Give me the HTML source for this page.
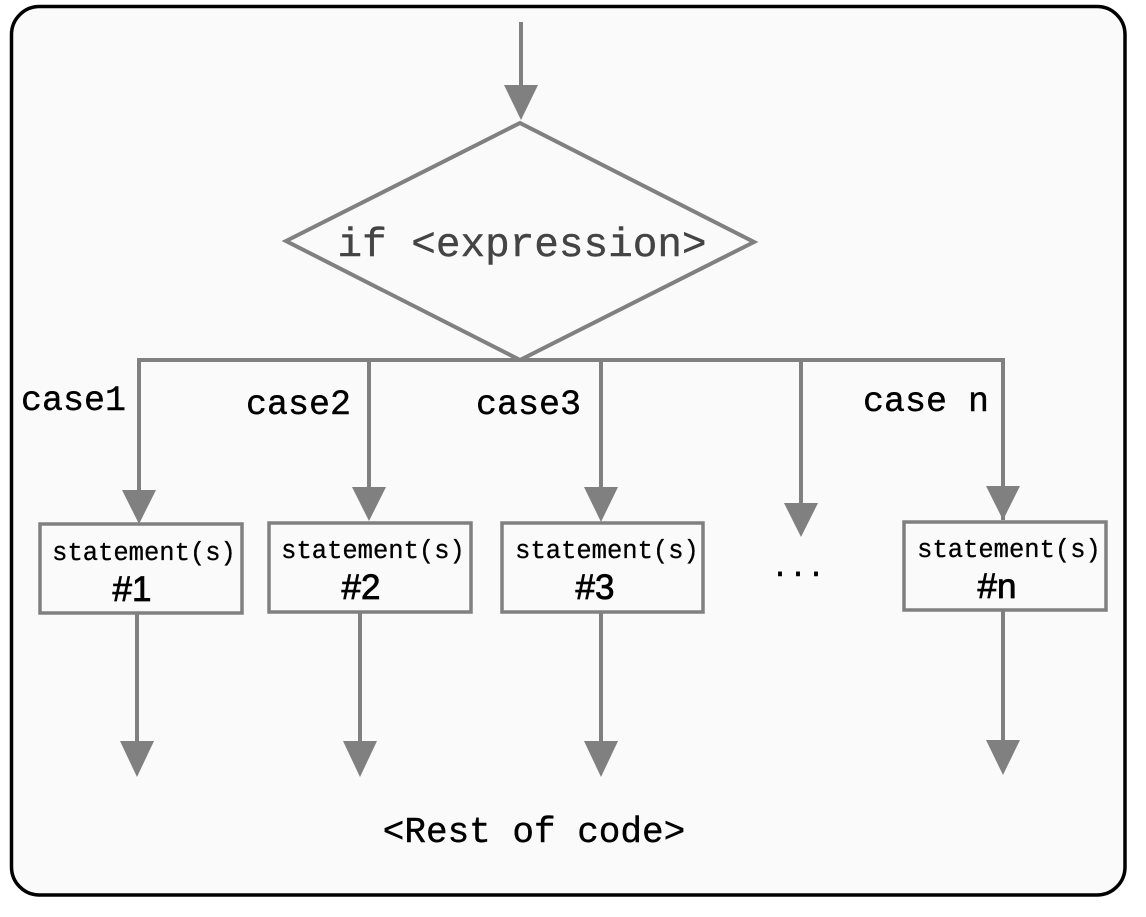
<!DOCTYPE html>
<html><head><meta charset="utf-8"><style>
html,body{margin:0;padding:0;background:#fff;}
svg{display:block;}
.m{font-family:"Liberation Mono",monospace;}
.s{font-family:"Liberation Sans",sans-serif;}
</style></head><body>
<svg width="1146" height="917" viewBox="0 0 1146 917" xmlns="http://www.w3.org/2000/svg">
<rect x="11.5" y="6.5" width="1113.5" height="888.5" rx="28" fill="#fafafa" stroke="#000" stroke-width="3.5"/>
<g stroke="#808080" stroke-width="4" fill="none">
<line x1="521" y1="22" x2="521" y2="90"/>
<polygon points="286,241 520,123 754,242 520,360"/>
<polyline points="139,520 139,360 1003,360 1003,520"/>
<line x1="369" y1="360" x2="369" y2="500"/>
<line x1="601" y1="360" x2="601" y2="500"/>
<line x1="801" y1="360" x2="801" y2="510"/>
<rect x="40" y="524" width="202" height="89" stroke-width="3.5"/>
<rect x="269" y="523" width="202" height="89" stroke-width="3.5"/>
<rect x="502" y="523" width="201" height="89" stroke-width="3.5"/>
<rect x="904" y="522" width="202" height="88" stroke-width="3.5"/>
<line x1="137" y1="613" x2="137" y2="745"/>
<line x1="360" y1="612" x2="360" y2="745"/>
<line x1="601" y1="612" x2="601" y2="745"/>
<line x1="1003" y1="610" x2="1003" y2="745"/>
</g>
<g fill="#808080">
<polygon points="504,85 538,85 521,120"/>
<polygon points="122,490 156,490 139,524"/>
<polygon points="352,487 386,487 369,521"/>
<polygon points="584,487 618,487 601,522"/>
<polygon points="784,503 818,503 801,537"/>
<polygon points="986,486 1020,486 1003,520"/>
<polygon points="120,741 154,741 137,777"/>
<polygon points="343,741 377,741 360,777"/>
<polygon points="584,741 618,741 601,777"/>
<polygon points="986,740 1020,740 1003,775"/>
</g>
<text x="522" y="256" class="m" font-size="41" fill="#444" text-anchor="middle" stroke="#444" stroke-width="0.4">if &lt;expression&gt;</text>
<g class="m" font-size="35" fill="#000" stroke="#000" stroke-width="0.4">
<text x="21" y="410">case1</text>
<text x="246" y="414">case2</text>
<text x="476" y="414">case3</text>
<text x="863" y="411">case n</text>
<text x="534" y="842" font-size="36" text-anchor="middle">&lt;Rest of code&gt;</text>
<text x="798" y="576" font-size="30" text-anchor="middle">...</text>
</g>
<g class="m" font-size="25.5" fill="#000" text-anchor="middle" stroke="#000" stroke-width="0.3">
<text x="144" y="560">statement(s)</text>
<text x="373" y="558">statement(s)</text>
<text x="607" y="558">statement(s)</text>
<text x="1009" y="557">statement(s)</text>
</g>
<g class="s" font-size="35" fill="#000" text-anchor="middle" stroke="#000" stroke-width="0.8">
<text x="132" y="601">#1</text>
<text x="361" y="599">#2</text>
<text x="595" y="599">#3</text>
<text x="997" y="598">#n</text>
</g>
</svg>
</body></html>
